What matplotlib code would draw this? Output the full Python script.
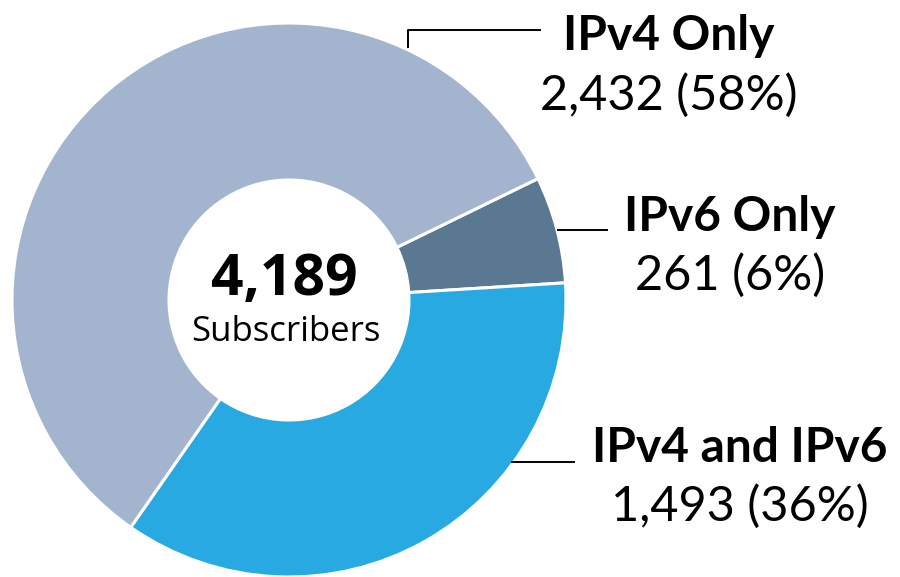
import matplotlib
matplotlib.use("Agg")
import matplotlib.pyplot as plt

W, H = 900, 577

labels = ["IPv6 Only", "IPv4 and IPv6", "IPv4 Only"]
counts = [261, 1493, 2432]
shares = ["6%", "36%", "58%"]
colors = ["#5A7891", "#29A9E1", "#A3B5CE"]
total_label = "4,189"  # as printed on the chart

fig = plt.figure(figsize=(W / 100, H / 100), dpi=100)
ax = fig.add_axes([0, 0, 1, 1])

cx, cy, r = 289, H - 300, 277
ax.pie(counts, colors=colors, startangle=26, counterclock=False,
       center=(cx, cy), radius=r, frame=True,
       wedgeprops=dict(width=157, edgecolor="white", linewidth=2.2))
ax.set_xlim(0, W)
ax.set_ylim(0, H)
ax.set_aspect("equal")
ax.axis("off")

# centre text
ax.text(cx - 5, H - 295, total_label, ha="center", va="baseline",
        fontsize=41, fontweight="bold", family="Open Sans")
ax.text(cx - 3, H - 341, "Subscribers", ha="center", va="baseline",
        fontsize=25, family="Open Sans")

# callouts: (label x centre, label baseline, value baseline) in image px
spots = [(730, 231, 290), (740, 462, 521), (669, 50, 110)]
for lab, n, s, (x, yb, yv) in zip(labels, counts, shares, spots):
    ax.text(x, H - yb, lab, ha="center", va="baseline",
            fontsize=34.5, fontweight="bold", family="Lato")
    ax.text(x, H - yv, f"{n:,} ({s})", ha="center", va="baseline",
            fontsize=35, family="Lato")

# leader lines
ax.plot([408, 408, 540], [H - 47, H - 30, H - 30], color="black", lw=1.4)
ax.plot([558, 607], [H - 230, H - 230], color="black", lw=1.4)
ax.plot([512, 574], [H - 462, H - 462], color="black", lw=1.4)

fig.savefig("out.png", dpi=100)
